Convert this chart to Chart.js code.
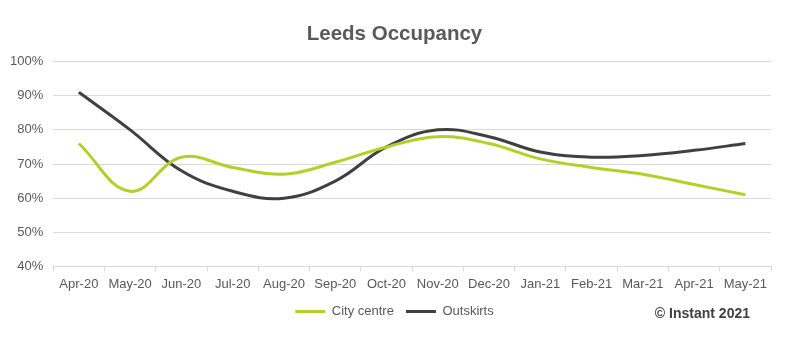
<!DOCTYPE html>
<html>
<head>
<meta charset="utf-8">
<script src="https://cdn.jsdelivr.net/npm/chart.js@4/dist/chart.umd.min.js"></script>
<style>
  html, body { margin: 0; padding: 0; background: #fff; }
  #wrap { position: relative; width: 789px; height: 343px; }
  #credit { position: absolute; right: 39px; top: 305px; font: bold 14px "Liberation Sans", Arial, sans-serif; color: #404040; }
</style>
</head>
<body>
<div id="wrap">
  <canvas id="occupancyChart" width="789" height="343"></canvas>
  <div id="credit">© Instant 2021</div>
</div>
<script>
var months = ['Apr-20', 'May-20', 'Jun-20', 'Jul-20', 'Aug-20', 'Sep-20', 'Oct-20',
  'Nov-20', 'Dec-20', 'Jan-21', 'Feb-21', 'Mar-21', 'Apr-21', 'May-21']
var cityCentre = [76, 62, 72, 69, 67, 70.5, 75, 78, 76, 71.5, 69, 67, 64, 61]
var outskirts = [91, 80, 68, 62, 60, 65, 75, 80, 78, 73.5, 72, 72.5, 74, 76]
var yTicks = [40, 50, 60, 70, 80, 90, 100]

var grey = '#595959'
var context = document.getElementById('occupancyChart').getContext('2d')
var chart = new Chart(context, {
  type: 'line',
  data: {
    labels: months,
    datasets: [{
      label: 'City centre',
      data: cityCentre,
      borderColor: '#b4cf2c',
      backgroundColor: '#b4cf2c',
      borderWidth: 3,
      tension: 0.4,
      pointRadius: 0,
      pointStyle: 'line',
      fill: false
    }, {
      label: 'Outskirts',
      data: outskirts,
      borderColor: '#404040',
      backgroundColor: '#404040',
      borderWidth: 3,
      tension: 0.4,
      pointRadius: 0,
      pointStyle: 'line',
      fill: false
    }]
  },
  options: {
    responsive: false,
    animation: false,
    layout: { padding: { left: 0, right: 0, top: 9, bottom: 15 } },
    plugins: {
      title: {
        display: true,
        text: 'Leeds Occupancy',
        color: grey,
        font: { family: 'Liberation Sans', size: 20.5, weight: 'bold' },
        padding: { top: 13, bottom: 15 }
      },
      legend: {
        position: 'bottom',
        labels: {
          color: grey,
          usePointStyle: true,
          pointStyleWidth: 30,
          padding: 12,
          font: { family: 'Liberation Sans', size: 13 }
        }
      },
      tooltip: { enabled: false }
    },
    scales: {
      x: {
        offset: true,
        grid: { offset: true, drawOnChartArea: false, tickLength: 5, color: '#d9d9d9' },
        border: { color: '#d9d9d9' },
        ticks: { color: grey, maxRotation: 0, autoSkip: false, padding: 5, font: { family: 'Liberation Sans', size: 13 } },
        afterFit: function(scale) { scale.height -= 4 }
      },
      y: {
        min: 40,
        max: 100,
        afterBuildTicks: function(axis) { axis.ticks = yTicks.map(function(v) { return { value: v } }) },
        grid: { color: '#d9d9d9', drawTicks: false },
        border: { display: false },
        ticks: {
          color: grey,
          padding: 10,
          font: { family: 'Liberation Sans', size: 13 },
          callback: function(v) { return v + '%' }
        }
      },
      // empty right-hand gutter so the title and legend stay centred on the canvas
      gutter: {
        type: 'linear',
        position: 'right',
        display: true,
        grid: { display: false, drawTicks: false },
        border: { display: false },
        ticks: { display: false },
        afterFit: function(scale) { scale.width = 18 }
      }
    }
  }
})
</script>
</body>
</html>
